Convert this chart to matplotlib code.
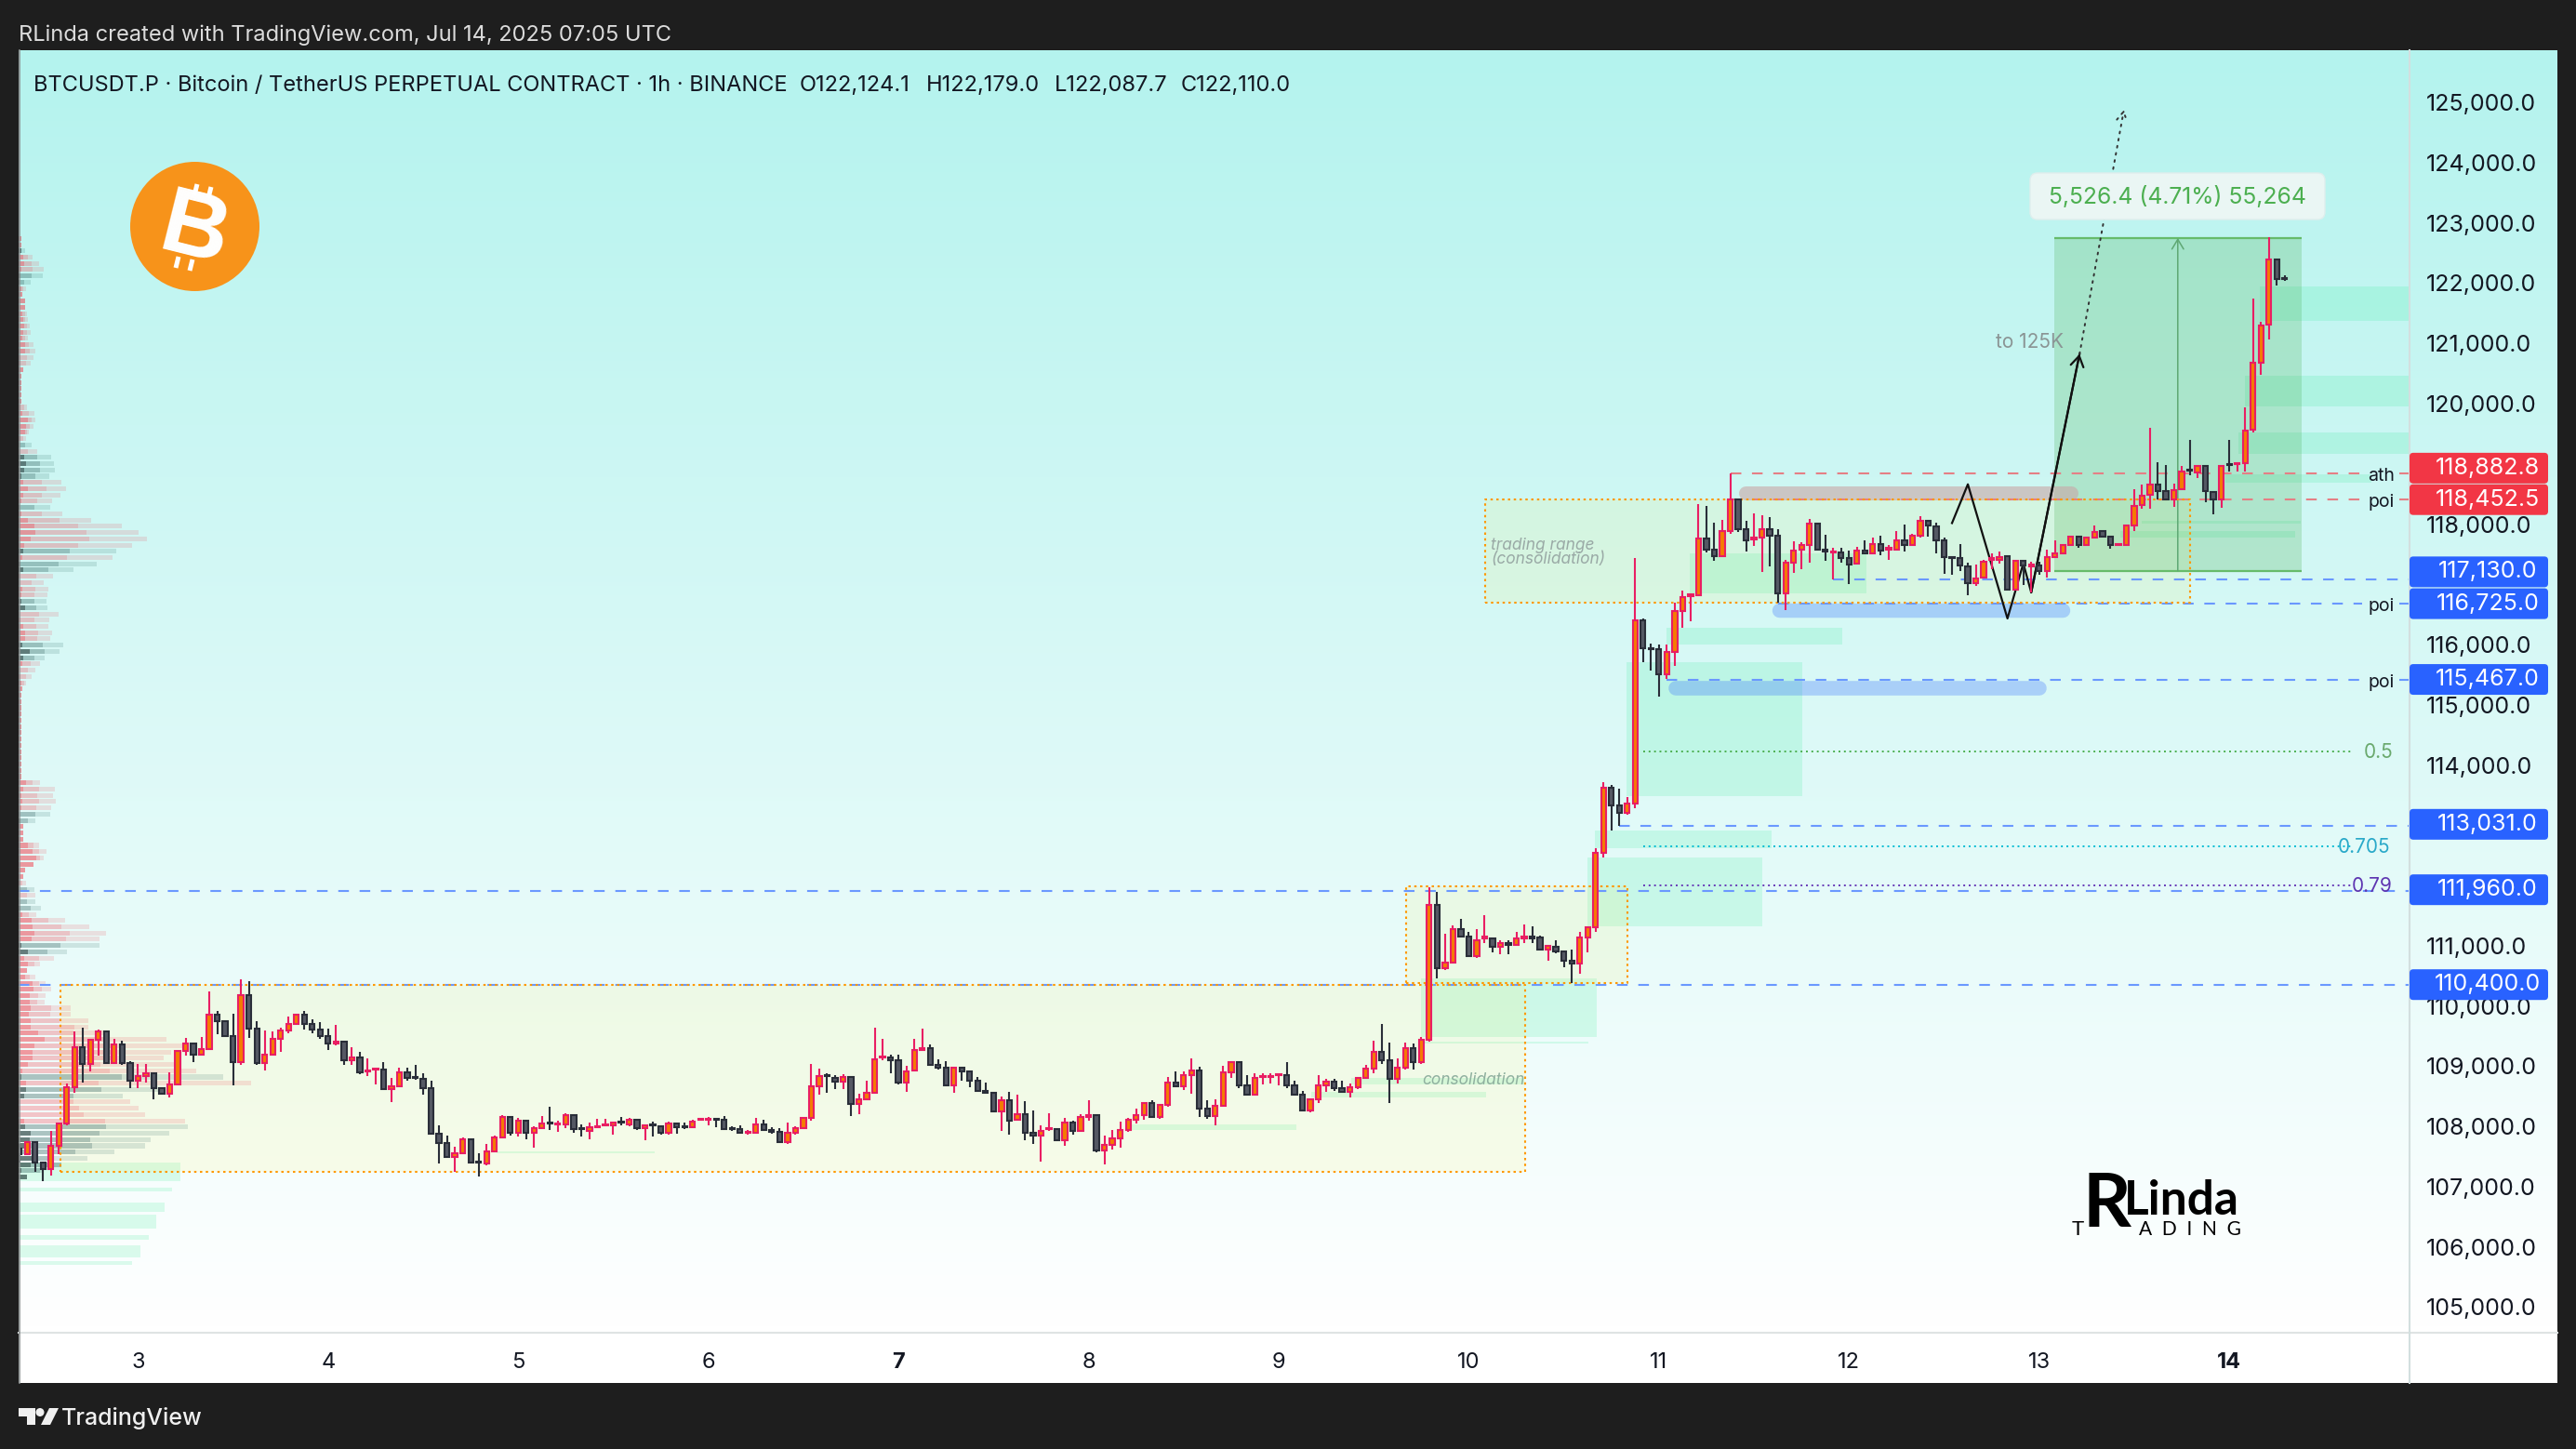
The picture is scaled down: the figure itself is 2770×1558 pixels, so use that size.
import numpy as np
import matplotlib
matplotlib.use('Agg')
import matplotlib.pyplot as plt
from matplotlib.patches import FancyBboxPatch, Circle, Polygon, Rectangle
from matplotlib.colors import LinearSegmentedColormap
from matplotlib.transforms import ScaledTranslation

plt.rcParams['font.family'] = ['Inter', 'DejaVu Sans']

# hourly candles, first one is Jul 2 09:00, bar 0 = Jul 3 00:00
first_bar = -15
opens = [
    107682,107579,107785,107440,107337,107718,108088,108695,109354,109076,
    109482,109621,109096,109405,109096,108803,108875,108927,108675,108582,
    108736,109292,109421,109230,109328,109899,109786,109544,109107,110218,
    109667,109096,109235,109498,109637,109739,109899,109739,109647,109539,
    109421,109446,109138,109189,108952,108983,108983,108664,108711,108937,
    108865,108829,108680,107924,107769,107533,107600,107826,107461,107430,
    107625,107857,108196,107934,108135,107934,108016,108109,108073,108073,
    108232,108011,107965,108027,108057,108057,108124,108073,108150,108016,
    108078,108042,107939,108088,108047,108032,108150,108150,108171,108150,
    108016,107996,107934,107939,108073,107985,107949,107785,107934,108016,
    108181,108706,108901,108850,108788,108865,108417,108489,108597,109184,
    109189,109143,108767,108968,109312,109343,109065,109019,108726,109019,
    108958,108803,108634,108603,108289,108479,108155,108248,107944,107888,
    107996,108001,107810,108109,107965,108201,108232,107641,107733,107847,
    107980,108150,108232,108433,108201,108402,108767,108711,108891,108973,
    108340,108212,108387,108942,109107,108726,108572,108860,108860,108891,
    108896,108726,108567,108304,108489,108726,108783,108675,108618,108690,
    108844,109004,109277,109138,108834,109014,109338,109112,109478,111718,
    110668,110770,111327,111193,110867,111174,111174,111026,111091,111058,
    111174,111193,111180,110988,111033,110956,110802,110751,111186,111346,
    112594,113675,113381,113247,113413,116452,115991,115972,115550,115927,
    116606,116855,116861,117808,117629,117520,117936,118448,117956,117789,
    117828,117968,117847,116900,117399,117616,117693,118058,117616,117572,
    117578,117488,117386,117604,117565,117712,117629,117629,117776,117693,
    117860,118103,118013,117770,117501,117476,117341,117073,117156,117452,
    117458,117517,116962,117435,117346,117358,117269,117494,117565,117695,
    117831,117701,117819,117931,117842,117695,117701,118020,118357,118534,
    118699,118593,118463,118629,118948,118906,119007,118581,118451,119048,
    119036,119060,119616,120727,121359,122440,122124]
closes = [
    107579,107785,107440,107337,107718,108088,108695,109354,109076,109482,
    109621,109096,109405,109096,108803,108880,108927,108675,108582,108736,
    109297,109421,109230,109328,109899,109786,109544,109107,110218,109667,
    109096,109235,109498,109631,109739,109899,109739,109647,109539,109421,
    109451,109138,109189,108937,108973,109004,108664,108711,108937,108849,
    108844,108680,107924,107769,107533,107600,107826,107440,107440,107625,
    107857,108196,107934,108135,107934,108016,108093,108088,108093,108232,
    107996,107996,108032,108047,108078,108109,108104,108150,108011,108057,
    108057,107934,108088,108032,108032,108119,108171,108171,108150,108001,
    107996,107939,107960,108073,107985,107960,107785,107934,108016,108181,
    108706,108875,108875,108788,108865,108417,108489,108597,109153,109204,
    109143,108767,108958,109312,109343,109060,109014,108726,109019,108958,
    108803,108628,108597,108289,108479,108145,108248,107934,107888,107965,
    108016,107810,108109,107965,108201,108232,107641,107733,107847,107980,
    108155,108232,108433,108201,108402,108767,108711,108891,108973,108340,
    108212,108387,108937,109107,108721,108572,108850,108880,108880,108911,
    108726,108567,108304,108489,108726,108783,108675,108618,108690,108844,
    108999,109277,109143,108834,109014,109338,109112,109477,111718,110668,
    110770,111314,111193,110867,111142,111193,111026,111091,111052,111174,
    111193,111174,110988,111040,110956,110802,110751,111186,111346,112594,
    113675,113381,113247,113413,116452,115979,115972,115550,115927,116606,
    116836,116881,117808,117629,117520,117930,118448,117956,117783,117828,
    117968,117847,116900,117399,117610,117693,118058,117616,117584,117591,
    117488,117380,117604,117565,117719,117604,117648,117776,117700,117860,
    118103,118026,117770,117501,117488,117354,117073,117149,117424,117476,
    117506,116962,117435,117352,117370,117269,117494,117559,117695,117831,
    117701,117819,117919,117842,117695,117718,118020,118351,118522,118699,
    118593,118463,118617,118924,118930,119007,118587,118451,119019,119024,
    119060,119604,120727,121347,122440,122115,122110]
highs = [
    107759,107785,107785,107440,107965,108088,108762,109621,109688,109482,
    109652,109621,109498,109472,109132,109086,109086,108927,108675,108942,
    109297,109518,109421,109534,110280,109966,109812,109920,110490,110460,
    109791,109637,109626,109688,109868,109920,109966,109827,109781,109673,
    109734,109446,109354,109287,109174,109004,109117,108855,109024,109024,
    109065,108932,108808,108068,107898,107708,107862,107826,107605,107759,
    107898,108232,108196,108181,108135,108052,108222,108376,108135,108263,
    108232,108083,108104,108176,108176,108109,108207,108186,108150,108057,
    108129,108057,108129,108114,108104,108160,108186,108207,108171,108222,
    108052,108068,107980,108186,108160,108027,108016,108104,108042,108207,
    109086,109009,108932,108901,108916,108880,108582,108808,109688,109493,
    109240,109240,109055,109493,109673,109410,109163,109132,109019,109040,
    108958,108865,108777,108603,108546,108623,108577,108469,108315,108068,
    108268,108001,108181,108145,108253,108484,108232,107898,107980,108119,
    108186,108346,108448,108484,108417,108865,108963,108958,109179,109040,
    108484,108500,109055,109107,109107,108901,108932,108932,108932,108911,
    109117,108808,108639,108489,108901,108829,108834,108808,108762,108844,
    109065,109472,109750,109441,109174,109441,109426,109534,112018,111941,
    111250,111378,111494,111283,111314,111551,111174,111142,111135,111270,
    111398,111365,111218,111040,111135,110956,110975,111270,111365,112658,
    113758,113714,113650,113522,117488,116478,116068,116049,116042,116746,
    116938,116881,118384,118352,118077,118115,118883,118448,118096,118224,
    118192,118160,117968,117457,117757,117744,118128,118058,117866,117648,
    117648,117604,117668,117776,117821,117853,117693,117936,118032,117885,
    118173,118103,118064,117821,117501,117712,117412,117373,117457,117565,
    117594,117517,117435,117435,117417,117417,117624,117771,117695,117843,
    117860,117831,118020,117949,117842,117718,118038,118629,118699,119651,
    119072,119024,118717,119013,119444,119013,119007,118581,119030,119444,
    119072,119988,121790,121406,122813,122440,122179]
lows = [
    107450,107579,107296,107142,107234,107579,108068,108608,108778,108952,
    109225,109096,109096,109060,108685,108675,108772,108489,108582,108520,
    108736,109215,109107,109230,109328,109570,109544,108721,109071,109508,
    109060,108968,109235,109277,109585,109724,109647,109595,109493,109318,
    109395,109060,109071,108916,108875,108747,108664,108453,108711,108808,
    108813,108567,107924,107435,107533,107296,107600,107440,107209,107399,
    107625,107841,107888,107882,107836,107697,108016,107980,107960,108016,
    107944,107882,107836,108027,108042,107913,108068,108052,107991,107821,
    107882,107913,107903,107929,108006,108016,108140,108068,108037,108001,
    107970,107924,107913,107939,107965,107924,107785,107749,107913,108006,
    108145,108567,108608,108659,108670,108212,108253,108489,108597,109148,
    108932,108747,108623,108968,109312,109060,108983,108726,108608,108803,
    108700,108628,108597,108273,107975,107913,108155,107821,107759,107466,
    107965,107810,107728,107913,107965,108145,107620,107409,107656,107697,
    107949,108088,108160,108196,108171,108366,108711,108644,108592,108196,
    108165,108057,108387,108855,108685,108572,108572,108747,108762,108721,
    108685,108551,108289,108284,108438,108623,108628,108618,108520,108659,
    108844,108932,109076,108438,108752,108983,108983,109086,109459,110502,
    110643,110770,111193,110867,110848,111091,110943,110911,110899,111058,
    111091,111091,110975,110802,110924,110694,110431,110579,110931,111282,
    112511,112959,113035,113215,113330,115761,115620,115185,115473,115684,
    116324,116439,116861,117578,117444,117520,117885,117917,117597,117680,
    117252,117348,116734,116625,117233,117297,117405,117616,117437,117124,
    117405,117053,117373,117540,117565,117533,117457,117629,117584,117693,
    117821,117840,117565,117220,117201,117265,116861,117015,117137,117299,
    117387,116962,116962,117033,116915,117210,117163,117476,117553,117683,
    117647,117701,117813,117825,117636,117695,117695,117931,118303,118298,
    118451,118451,118333,118617,118853,118806,118404,118203,118321,118924,
    118924,118924,119562,120520,121111,122000,122087]

# visible range volume profile on the left, top row first
profile_top = 122790
profile_bottom = 107204
profile_kind = ("rrgrrrggrr" "rrrrrrrrrr" "rrrrrrrrrr" "rrrgrggggr" "rrrgrrrrrr"
                "grggrrrrgg" "rrrrrgggrr" "rrrrrrrrrr" "rrrrrrrrrr" "rrggrrrrrr"
                "rrrrgrggrr" "rrrggrrrrr" "rrrrrrrrrr" "rrrrgrggrr" "rrggggggggg")
profile_a = [3,3,3,5,6,3,2,1,3,4, 7,7,4,5,6,5,4,7,7,2, 2,5,3,3,3,3,3,2,4,10,
             8,7,2,0,0,6,8,6,3,5, 10,5,3,1,3,10,17,18,13,6, 5,4,2,5,1,0,4,3,3,7,
             0,2,5,7,7,4,12,5,4,0, 2,3,4,3,3,3,3,3,3,3, 3,3,3,3,3,3,3,8,5,3,
             4,3,0,2,5,5,5,10,15,19, 16,7,5,2,0,0,0,2,4,14, 15,17,14,3,10,6,10,9,7,15,
             16,12,12,13,11,13,13,21,28,17, 15,15,10,4,3,8,8,6,1,1, 1,6,7,13,12,9,3,16,13,3, 9]
profile_b = [3,3,3,10,14,15,14,6,5,4, 7,7,7,7,9,9,7,11,12,9, 8,5,3,3,3,3,3,6,11,14,
             12,9,5,7,10,20,23,23,18,25, 30,25,20,17,25,44,64,73,76,64, 55,52,43,32,19,14,18,17,17,19,
             22,17,19,21,20,26,28,17,13,10, 8,6,4,3,3,3,3,3,3,3, 3,3,3,3,3,3,3,15,22,20,
             22,19,18,10,5,5,5,16,22,23, 16,7,5,4,9,9,9,13,11,32, 46,55,51,45,31,22,17,9,12,22,
             25,21,20,35,34,44,60,59,95,101, 106,99,88,98,111,86,89,59,59,65, 70,93,94,87,77,79,61,32,46,23, 9]
profile_c = [3,3,7,15,22,27,26,13,8,4, 7,7,9,10,12,13,10,16,18,16, 13,5,3,3,3,3,3,9,17,18,
             16,11,8,14,20,35,38,39,33,46, 51,45,36,34,47,78,111,129,138,122, 105,101,84,59,37,27,32,31,30,31,
             43,33,32,36,34,48,44,28,23,18, 14,8,4,3,3,3,3,3,3,3, 3,3,3,3,3,3,3,23,39,37,
             40,35,34,18,5,5,5,22,30,27, 16,7,5,8,17,18,18,24,19,50, 76,94,87,87,52,38,23,9,18,29,
             35,29,28,56,56,75,75,95,159,178, 164,156,167,191,220,250,152,112,120,129, 136,179,182,162,142,136,103,74,46,25, 9]

# green gap zones: bar from, bar to, price low, price high
zones_x0 = [162.0,162.3,183.0,183.9,187.9,192.9,195.9,267.8,266.0,265.2,263.5,253.0,250.2,125.4,148.1,153.1,45.3,-15.1,-15.1,-15.1,-15.1,-15.1,-15.1,-15.1]
zones_x1 = [184.2,183.1,205.0,206.2,210.1,215.1,218.2,286.7,286.7,286.7,281.9,273.0,272.3,146.2,170.2,175.0,65.2,5.4,4.3,3.4,2.3,1.4,0.3,-0.7]
zones_lo = [109531,109423,111368,112665,113530,116046,116902,121419,120007,119212,118733,118054,117822,107987,108527,108743,107601,107137,106968,106628,106350,106165,105872,105748]
zones_hi = [110503,109454,112511,112958,115753,116324,117567,121990,120515,119567,118872,118100,117930,108079,108620,108851,107632,107446,107030,106782,106582,106242,106072,105810]

# dotted orange boxes: bar from, bar to, price low, price high
box_x0 = [-9.8,160.1,170.1]
box_x1 = [175.1,188.0,259.0]
box_lo = [107296,110426,116742]
box_hi = [110400,112037,118451]

# rounded poi bars
poi_x0 = [206.2,193.2,202.0]
poi_x1 = [243.9,240.9,244.9]
poi_lo = [116494,115203,118455]
poi_hi = [116733,115444,118687]
poi_col = ['#2962ff','#2962ff','#c9a6a6']

# horizontal levels
blue_levels = [111960,110400,113031,117130]
blue_start = [-15.1,-15.1,187,214]
# these ones leave a gap for their label
gap_levels = [116725,115467,118882.8,118452.5]
gap_start = [207,193,201,201]
gap_cols = ['#6a98ff','#6a98ff','#e57f85','#e57f85']
fib_levels = [114274,112696,112047]
fib_names = ['0.5','0.705','0.79']
fib_cols = ['#4caf50','#00bcd4','#673ab7']
fib_text = ['#6aa96d','#2aa9c9','#5e35b1']

# price tags: value, colour, shift in px
tag_values = [118882.8,118452.5,117130.0,116725.0,115467.0,113031.0,111960.0,110400.0]
tag_colors = ['#f23645','#f23645','#2962ff','#2962ff','#2962ff','#2962ff','#2962ff','#2962ff']
tag_shift = [-6,0,-8,0,0,-2,-1,0]

# tick prices the tags do not cover
price_ticks = [105000,106000,107000,108000,109000,110000,111000,114000,115000,116000,118000,120000,121000,122000,123000,124000,125000]

# long position tool
long_x0, long_x1 = 241.9, 273.1
long_lo, long_hi = 117270, 122796.4

# drawn path
path_x = [229.0,231.0,236.0,238.0,239.0]
path_y = [118063,118707,116479,117394,116911]
arrow_tip = (245.1,120870)
target_tip = (250.7,124924)

day_labels = ['3','4','5','6','7','8','9','10','11','12','13','14']
bold_days = ['7','14']

W, H = 2770, 1558
px_per_bar = 8.518
fig = plt.figure(figsize=(W/100, H/100), dpi=100, facecolor='#1e1e1e')

# background
bg = fig.add_axes([20/W, (H-1433)/H, 2730/W, 1379/H], zorder=0)
cmap = LinearSegmentedColormap.from_list('bg', ['#b4f3ee', '#ffffff'])
bg.imshow(np.linspace(0, 1, 400).reshape(-1, 1), aspect='auto', cmap=cmap, vmin=0, vmax=1)
bg.axis('off')

ax = fig.add_axes([20/W, (H-1433)/H, (2591-20)/W, 1379/H], zorder=1)
ax.patch.set_alpha(0)
xmin, xmax = (20-148.4)/px_per_bar, (2591-148.4)/px_per_bar
ax.set_xlim(xmin, xmax)
ax.set_ylim(104620, 125914)
for s in ax.spines.values():
    s.set_visible(False)

# volume profile
row_prices = np.linspace(profile_top, profile_bottom, len(profile_a))
red_tiers = [('#f23645', .14), ('#f23645', .16), ('#f23645', .30)]
green_tiers = [('#1d5c55', .14), ('#1d4c4c', .22), ('#1a2a2a', .45)]
kinds = np.array(list(profile_kind))
for vals, i in zip([profile_c, profile_b, profile_a], [0, 1, 2]):
    vals = np.array(vals) / px_per_bar
    for k, tiers in zip('rg', [red_tiers, green_tiers]):
        m = kinds == k
        ax.barh(row_prices[m], vals[m], left=xmin, height=78, color=tiers[i][0], alpha=tiers[i][1], lw=0, zorder=1.5)

# zones
for x0, x1, lo, hi in zip(zones_x0, zones_x1, zones_lo, zones_hi):
    ax.add_patch(Rectangle((x0, lo), x1-x0, hi-lo, fc='#00e676', alpha=.13, lw=0, zorder=1))
for x0, x1, lo, hi in zip(box_x0, box_x1, box_lo, box_hi):
    ax.add_patch(Rectangle((x0, lo), x1-x0, hi-lo, fc='#ffee58', alpha=.12, lw=0, zorder=1))
    ax.plot([x0, x1, x1, x0, x0], [lo, lo, hi, hi, lo], color='#ff9800', lw=1.5, ls=(0, (1.2, 1.8)), zorder=2.5)

# long position
ax.add_patch(Rectangle((long_x0, long_lo), long_x1-long_x0, long_hi-long_lo, fc='#4caf50', alpha=.24, lw=0, zorder=1.2))
ax.hlines([long_lo, long_hi], long_x0, long_x1, color='#66bb6a', lw=1.6, zorder=2)
long_mid = (long_x0+long_x1)/2
ax.annotate('', xy=(long_mid, long_hi), xytext=(long_mid, long_lo),
            arrowprops=dict(arrowstyle='->,head_width=.45,head_length=.75', color='#5fa874', lw=1.1, shrinkA=0, shrinkB=0), zorder=2)

# levels
dash = [(0, (5.5, 5.5))]
ax.hlines(blue_levels, blue_start, xmax, color='#6a98ff', lw=1.5, linestyles=dash, zorder=2.2)
gap0, gap1 = (2540-148.4)/px_per_bar, (2580-148.4)/px_per_bar
for lev, st, col in zip(gap_levels, gap_start, gap_cols):
    ax.hlines(lev, st, gap0, color=col, lw=1.5, linestyles=dash, zorder=2.2)
    ax.hlines(lev, gap1, xmax, color=col, lw=1.5, linestyles=dash, zorder=2.2)
for lev, col in zip(fib_levels, fib_cols):
    ax.hlines(lev, 190, (2530-148.4)/px_per_bar, color=col, lw=1.4, linestyles=[(0, (1, 2))], zorder=2.2)

# poi bars, drawn as thick round capped lines
for x0, x1, lo, hi, col in zip(poi_x0, poi_x1, poi_lo, poi_hi, poi_col):
    thick = (hi-lo) * .06476 * .72
    inset = (hi-lo) * .06476 / 2 / px_per_bar
    ax.plot([x0+inset, x1-inset], [(lo+hi)/2]*2, color=col, lw=thick, solid_capstyle='round',
            alpha=.27 if col == '#2962ff' else .6, zorder=1.8)

# candles
x = np.arange(first_bar, first_bar + len(opens))
o, c, h, l = map(np.array, [opens, closes, highs, lows])
up = c >= o
ax.vlines(x[up], l[up], h[up], color='#e91e63', lw=1.5, zorder=3)
ax.vlines(x[~up], l[~up], h[~up], color='#2a2e39', lw=1.5, zorder=3)
ax.bar(x[up], (c-o)[up], bottom=o[up], width=.62, color='#f57c00', edgecolor='#e91e63', lw=1.5, zorder=3.2)
ax.bar(x[~up], (c-o)[~up], bottom=o[~up], width=.62, color='#555964', edgecolor='#2a2e39', lw=1.5, zorder=3.2)

# drawn path and target
ax.plot(path_x + [arrow_tip[0]], path_y + [arrow_tip[1]], color='#111111', lw=1.6, zorder=2.8)
ax.annotate('', xy=arrow_tip, xytext=(path_x[-1], path_y[-1]),
            arrowprops=dict(arrowstyle='->,head_width=.5,head_length=.8', color='#111111', lw=1.6, shrinkA=0, shrinkB=0), zorder=2.8)
ax.annotate('', xy=target_tip, xytext=arrow_tip,
            arrowprops=dict(arrowstyle='->,head_width=.4,head_length=.7', color='#333333', lw=1.4, ls=(0, (1, 3)), shrinkA=0, shrinkB=0), zorder=2.8)

# axes
ax.yaxis.tick_right()
ax.set_yticks(price_ticks)
ax.yaxis.set_major_formatter(lambda v, pos: f'{v:,.1f}')
ax.tick_params(axis='y', length=0, pad=13, labelsize=18, labelcolor='#131722')
ax.set_xticks(np.arange(len(day_labels)) * 24)
ax.set_xticklabels(day_labels)
ax.tick_params(axis='x', length=0, pad=15, labelsize=17, labelcolor='#131722')
for t in ax.get_xticklabels():
    if t.get_text() in bold_days:
        t.set_fontweight('bold')
up_shift = ScaledTranslation(0, 3/100, fig.dpi_scale_trans)
for t in ax.get_yticklabels():
    t.set_transform(t.get_transform() + up_shift)

# overlay in pixels for the screen furniture
ov = fig.add_axes([0, 0, 1, 1], zorder=2)
ov.set_xlim(0, W)
ov.set_ylim(H, 0)
ov.axis('off')
ov.patch.set_alpha(0)

def py(price):
    return 1058.7 - (price - 110400) * .06476

# x axis strip under the pane, sits behind labels
strip = fig.add_axes([20/W, (H-1487)/H, 2730/W, 54/H], zorder=0.5)
strip.set_facecolor('white')
strip.set_xticks([])
strip.set_yticks([])
for s in strip.spines.values():
    s.set_visible(False)

ov.plot([20, 2750], [1433, 1433], color='#dfe3e3', lw=1.5)
ov.plot([2591, 2591], [54, 1487], color='#d3dfdf', lw=1.5)
ov.plot([20.5, 20.5], [54, 1487], color='#8a8f8f', lw=1.2)

ov.text(20, 38, 'RLinda created with TradingView.com, Jul 14, 2025 07:05 UTC', color='#dcdcdc', fontsize=17, va='center')
ov.text(36, 92, 'BTCUSDT.P · Bitcoin / TetherUS PERPETUAL CONTRACT · 1h · BINANCE', color='#131722', fontsize=17, va='center')
for txt, xx in zip(['O122,124.1', 'H122,179.0', 'L122,087.7', 'C122,110.0'], [860, 996, 1134, 1270]):
    ov.text(xx, 92, txt, color='#131722', fontsize=17, va='center')

# bitcoin badge
ov.add_patch(Circle((209.5, 243.5), 69.5, fc='#f7931a', lw=0))
ov.text(209, 251, 'B', color='white', fontsize=72, fontweight='bold', family='Liberation Sans', ha='center', va='center', rotation=-14)
for xa, ya, xb, yb in [(212, 198, 209, 210), (227, 201, 224, 213), (192, 276, 189, 288), (207, 279, 204, 291)]:
    ov.plot([xa, xb], [ya, yb], color='white', lw=3.6, solid_capstyle='butt')

# price tags
for v, col, sh in zip(tag_values, tag_colors, tag_shift):
    yc = py(v) + sh
    ov.add_patch(FancyBboxPatch((2591, yc-16.5), 149, 33, boxstyle='round,pad=0,rounding_size=4', fc=col, lw=0, zorder=4))
    ov.text(2675, yc, f'{v:,.1f}', color='white', fontsize=18, ha='center', va='center', zorder=5)

# level labels
for txt, yy in zip(['ath', 'poi', 'poi', 'poi'], [512, 540, 652, 734]):
    ov.text(2561, yy, txt, color='#131722', fontsize=14, ha='center', va='center')
for txt, lev, col, xx in zip(fib_names, fib_levels, fib_text, [2558, 2542, 2551]):
    ov.text(xx, py(lev)+1, txt, color=col, fontsize=15, ha='center', va='center')

# long label
ov.add_patch(FancyBboxPatch((2183, 186), 317, 50, boxstyle='round,pad=0,rounding_size=8', fc='#eaf6f4', ec='#dfeeed', lw=1, zorder=4))
ov.text(2341, 212, '5,526.4 (4.71%) 55,264', color='#4caf50', fontsize=17.8, ha='center', va='center', zorder=5)
ov.text(2183, 368, 'to 125K', color='#8a9494', fontsize=15, ha='center', va='center')

# notes
ov.text(1603, 586, 'trading range', color='#9aaaa6', fontsize=12.5, style='italic', va='center')
ov.text(1603, 601.5, '(consolidation)', color='#9aaaa6', fontsize=12.5, style='italic', va='center')
ov.text(1529, 1161, 'consolidation', color='#8fb09f', fontsize=12.5, style='italic', va='center')

# rlinda mark
ov.text(2265, 1296, 'R', color='black', fontsize=58, fontweight='bold', family='Lato', ha='center', va='center')
ov.text(2284, 1292, 'Linda', color='black', fontsize=37, fontweight='bold', family='Lato', va='center')
ov.text(2228, 1322, 'T', color='black', fontsize=16, va='center', family='Lato')
ov.text(2300, 1322, 'A  D  I  N  G', color='black', fontsize=15, va='center', family='Lato')

# tradingview footer
ov.add_patch(Polygon([(20, 1514), (38, 1514), (38, 1532), (29, 1532), (29, 1523), (20, 1523)], fc='#f0f0f0', lw=0))
ov.add_patch(Circle((43, 1518.5), 4.5, fc='#f0f0f0', lw=0))
ov.add_patch(Polygon([(53, 1514), (63, 1514), (54, 1532), (44, 1532)], fc='#f0f0f0', lw=0))
ov.text(66, 1525, 'TradingView', color='#f0f0f0', fontsize=18, fontweight='medium', va='center')

fig.savefig('out.png', dpi=100, facecolor=fig.get_facecolor())
